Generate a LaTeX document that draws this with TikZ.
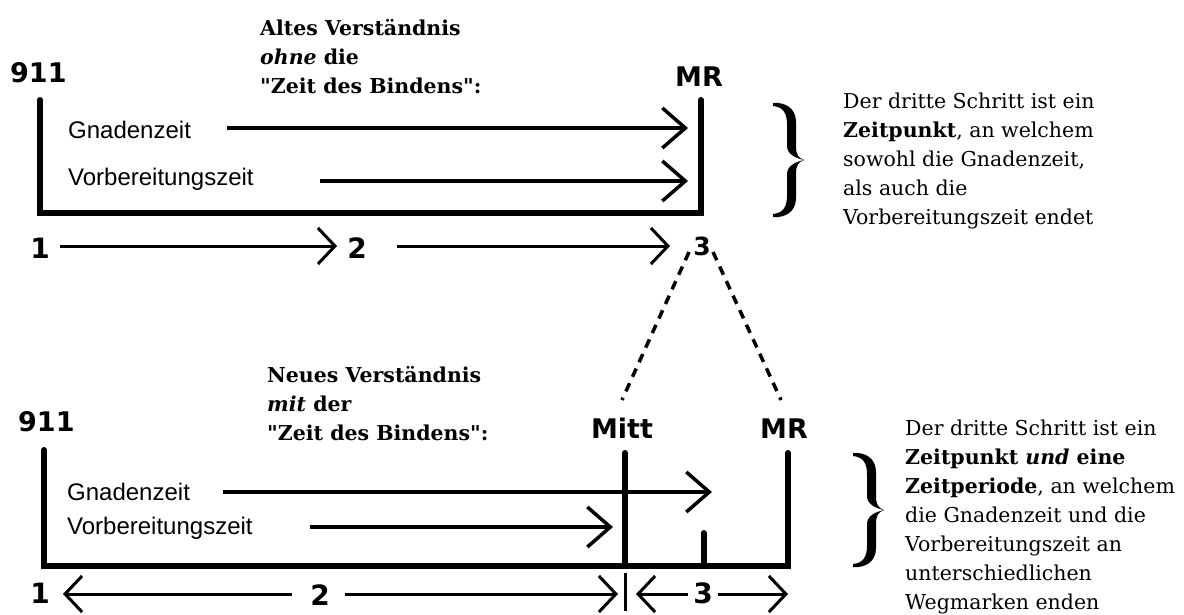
\documentclass[tikz,border=0pt]{standalone}
\usepackage{fontspec}
\setmainfont{DejaVu Serif}
\newfontfamily\lsans{Liberation Sans}
\newfontfamily\dsans{DejaVu Sans}
\usetikzlibrary{arrows.meta}
\tikzset{
  bracepic/.pic={
    \fill (0,-57) .. controls (12,-58) and (23,-52) .. (23,-38) -- (23,-14)
      .. controls (23,-6) and (25,-2) .. (31,0)
      .. controls (22,-2) and (14,-6) .. (14,-14) -- (14,-36)
      .. controls (14,-47) and (10,-53) .. (0,-54) -- cycle;
    \fill (0,57) .. controls (12,58) and (23,52) .. (23,38) -- (23,14)
      .. controls (23,6) and (25,2) .. (31,0)
      .. controls (22,2) and (14,6) .. (14,14) -- (14,36)
      .. controls (14,47) and (10,53) .. (0,54) -- cycle;
  }
}
\begin{document}
\begin{tikzpicture}[x=1pt,y=-1pt,
  frame/.style={line width=6pt, line cap=round, line join=miter},
  bigarr/.style={line width=3.5pt, -{Straight Barb[length=23pt,width=40pt]}},
  smallarr/.style={line width=3pt, -{Straight Barb[length=17pt,width=36pt]}},
  dashline/.style={line width=3.5pt, dash pattern=on 9pt off 7pt},
  lbl/.style={font=\dsans\bfseries\fontsize{27}{32}\selectfont, inner sep=0, anchor=base},
  digit/.style={font=\dsans\bfseries\fontsize{28}{32}\selectfont, inner sep=0, anchor=base},
  sanslbl/.style={font=\lsans\fontsize{24}{28}\selectfont, inner sep=0, anchor=base west},
  titletext/.style={font=\bfseries\fontsize{20.5}{29}\selectfont, align=left, anchor=north west, inner sep=0},
  notetext/.style={font=\fontsize{20.5}{29}\selectfont, align=left, anchor=north west, inner sep=0},
]
\fill[white] (0,0) rectangle (1184,614);

% ---------------- top diagram ----------------
\node[titletext] (title1) at (260,19.5) {Altes Verständnis\\\textit{ohne} die\\\textquotedbl Zeit des Bindens\textquotedbl:};
\node[lbl, anchor=base west] (n911a) at (10,82) {911};
\node[lbl] (mra) at (699,86) {MR};
\node[sanslbl] (gza) at (68,138) {Gnadenzeit};
\node[sanslbl] (vza) at (68,185) {Vorbereitungszeit};

\coordinate (fa1) at (40,100);
\coordinate (fa2) at (40,213);
\coordinate (fa3) at (701,213);
\coordinate (fa4) at (701,100);
\draw[frame] (fa1) -- (fa2) -- (fa3) -- (fa4);

\coordinate (ga0) at (227,128);
\coordinate (ga1) at (688,128);
\coordinate (va0) at (320,181);
\coordinate (va1) at (688,181);
\draw[bigarr] (ga0) -- (ga1);
\draw[bigarr] (va0) -- (va1);

\node[digit] (d1a) at (40,258) {1};
\node[digit] (d2a) at (357,258) {2};
\node[digit, font=\dsans\bfseries\fontsize{25}{30}\selectfont] (d3a) at (702,255) {3};
\coordinate (sa0) at (60,246);
\coordinate (sa1) at (337,246);
\coordinate (sb0) at (397,246);
\coordinate (sb1) at (670,246);
\draw[smallarr] (sa0) -- (sa1);
\draw[smallarr] (sb0) -- (sb1);

\pic at (773,160) {bracepic};
\node[notetext] (notea) at (843,92.5) {Der dritte Schritt ist ein\\\textbf{Zeitpunkt}, an welchem\\sowohl die Gnadenzeit,\\als auch die\\Vorbereitungszeit endet};

% dashed connection
\coordinate (dl0) at (689,252);
\coordinate (dr0) at (713,252);
\coordinate (dl1) at (622,400);
\coordinate (dr1) at (781,400);
\draw[dashline] (dl0) -- (dl1);
\draw[dashline] (dr0) -- (dr1);

% ---------------- bottom diagram ----------------
\node[titletext] (title2) at (267,366.5) {Neues Verständnis\\\textit{mit} der\\\textquotedbl Zeit des Bindens\textquotedbl:};
\node[lbl, anchor=base west] (n911b) at (18,431) {911};
\node[lbl] (mitt) at (622,438) {Mitt};
\node[lbl] (mrb) at (784,438) {MR};
\node[sanslbl] (gzb) at (67,500) {Gnadenzeit};
\node[sanslbl] (vzb) at (67,534) {Vorbereitungszeit};

\coordinate (fb1) at (44,450);
\coordinate (fb2) at (44,566);
\coordinate (fb3) at (788,566);
\coordinate (fb4) at (788,453);
\draw[frame] (fb1) -- (fb2) -- (fb3) -- (fb4);
\coordinate (mt0) at (625,453);
\coordinate (mt1) at (625,566);
\draw[frame] (mt0) -- (mt1);
\coordinate (tk0) at (703.5,533);
\coordinate (tk1) at (703.5,566);
\draw[frame] (tk0) -- (tk1);

\coordinate (gb0) at (223,492);
\coordinate (gb1) at (712,492);
\coordinate (vb0) at (310,527);
\coordinate (vb1) at (613,527);
\draw[bigarr] (gb0) -- (gb1);
\draw[bigarr] (vb0) -- (vb1);

\node[digit] (d1b) at (40,603) {1};
\node[digit] (d2b) at (320,605) {2};
\node[digit] (d3b) at (703,603) {3};
\coordinate (ba0) at (292,594);
\coordinate (ba1) at (63,594);
\coordinate (bb0) at (345,594);
\coordinate (bb1) at (618,594);
\coordinate (bc0) at (688,594);
\coordinate (bc1) at (636,594);
\coordinate (bd0) at (718,594);
\coordinate (bd1) at (788,594);
\draw[smallarr] (ba0) -- (ba1);
\draw[smallarr] (bb0) -- (bb1);
\draw[smallarr] (bc0) -- (bc1);
\draw[smallarr] (bd0) -- (bd1);
\coordinate (bt0) at (625,573);
\coordinate (bt1) at (625,611);
\draw[line width=3pt] (bt0) -- (bt1);

\pic at (853,510) {bracepic};
\node[notetext] (noteb) at (905,419.5) {Der dritte Schritt ist ein\\\textbf{Zeitpunkt \textit{und} eine}\\\textbf{Zeitperiode}, an welchem\\die Gnadenzeit und die\\Vorbereitungszeit an\\unterschiedlichen\\Wegmarken enden};
\end{tikzpicture}
\end{document}
